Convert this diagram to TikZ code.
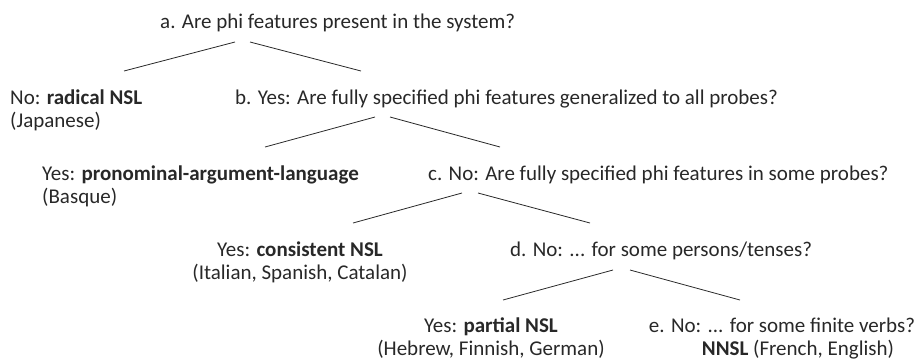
\documentclass[tikz,border=0pt]{standalone}
\usepackage{fontspec}
\setmainfont{Carlito}
\definecolor{ink}{RGB}{40,40,40}
\begin{document}
\begin{tikzpicture}[x=1pt,y=-1pt,
  txt/.style={inner sep=0pt, font=\fontsize{21}{25}\selectfont, text=ink},
  br/.style={draw=ink, line width=0.8pt}]
\useasboundingbox (0,0) rectangle (920,360);
% texts
\node[txt, anchor=base west] (a) at (160,28) {a. Are phi features present in the system?};
\node[txt, anchor=base west] (no1) at (10,104) {No: \textbf{radical NSL}};
\node[txt, anchor=base west] (no2) at (10,127) {(Japanese)};
\node[txt, anchor=base west] (b) at (235,104) {b. Yes: Are fully specified phi features generalized to all probes?};
\node[txt, anchor=base west] (pal1) at (42,180) {Yes: \textbf{pronominal-argument-language}};
\node[txt, anchor=base west] (pal2) at (42,203) {(Basque)};
\node[txt, anchor=base west] (c) at (428,180) {c. No: Are fully specified phi features in some probes?};
\node[txt, anchor=base] (cons1) at (300,256) {Yes: \textbf{consistent NSL}};
\node[txt, anchor=base] (cons2) at (300,279) {(Italian, Spanish, Catalan)};
\node[txt, anchor=base west] (d) at (510,256) {d. No: ... for some persons/tenses?};
\node[txt, anchor=base] (part1) at (491,332) {Yes: \textbf{partial NSL}};
\node[txt, anchor=base] (part2) at (491,355) {(Hebrew, Finnish, German)};
\node[txt, anchor=base] (e1) at (782,332) {e. No: ... for some finite verbs?};
\node[txt, anchor=base] (e2) at (798,355) {\textbf{NNSL} (French, English)};
% branch end points
\coordinate (aL) at (235,42);  \coordinate (aR) at (250,42);
\coordinate (noT) at (124,71); \coordinate (bT) at (361,71);
\coordinate (bL) at (375,117); \coordinate (bR) at (390,117);
\coordinate (palT) at (265,147); \coordinate (cT) at (500,147);
\coordinate (cL) at (462,193); \coordinate (cR) at (478,193);
\coordinate (consT) at (353,223); \coordinate (dT) at (590,223);
\coordinate (dL) at (613,270); \coordinate (dR) at (630,270);
\coordinate (partT) at (503,300); \coordinate (eT) at (740,300);
% branches
\draw[br] (aL) -- (noT);
\draw[br] (aR) -- (bT);
\draw[br] (bL) -- (palT);
\draw[br] (bR) -- (cT);
\draw[br] (cL) -- (consT);
\draw[br] (cR) -- (dT);
\draw[br] (dL) -- (partT);
\draw[br] (dR) -- (eT);
\end{tikzpicture}
\end{document}
